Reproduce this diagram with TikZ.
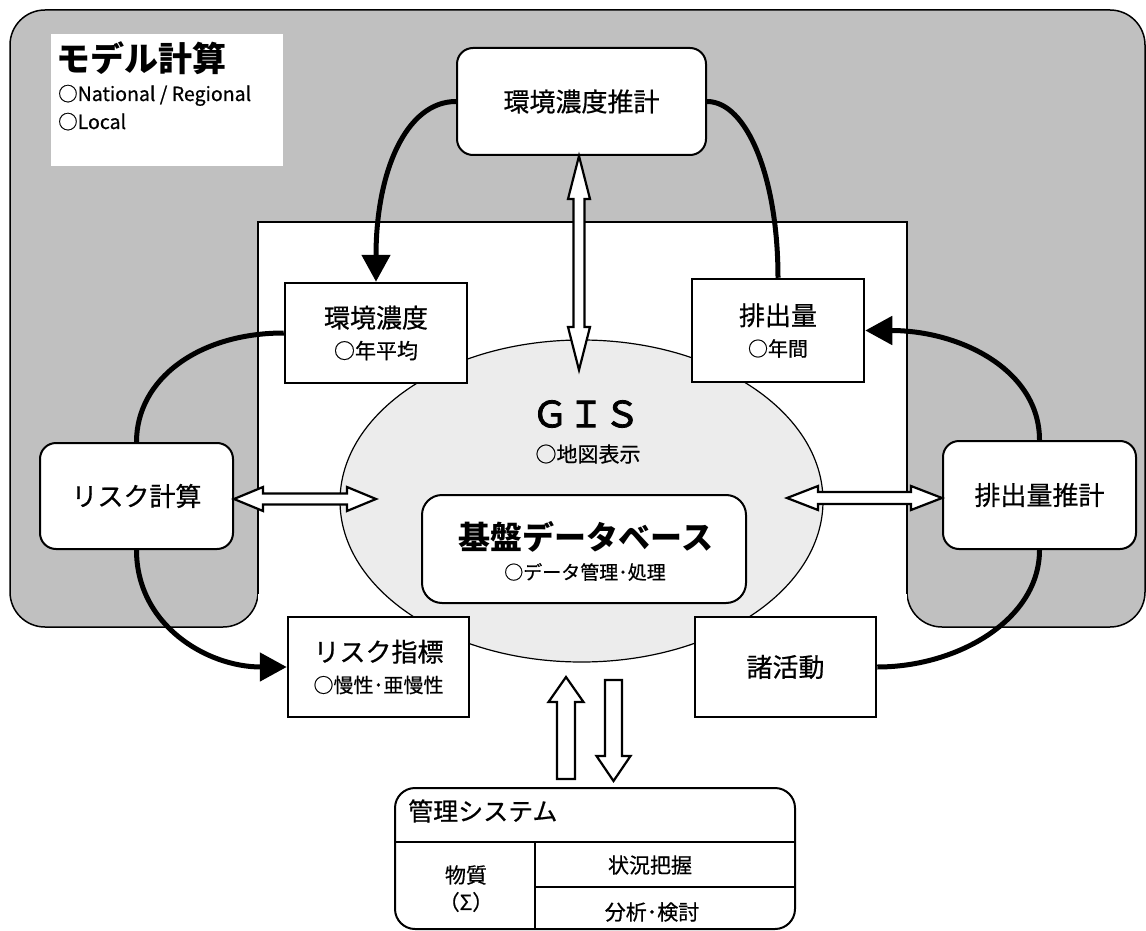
\documentclass[tikz,border=0pt]{standalone}
\usepackage{fontspec}
\setmainfont{Noto Sans CJK JP}[UprightFeatures={FakeBold=0.6}]
\newfontfamily\gisfont{Noto Sans CJK JP}[FakeBold=2.2]
\usetikzlibrary{arrows.meta,calc,shapes.geometric}
\definecolor{panelgrey}{HTML}{C0C0C0}
\definecolor{gisfill}{HTML}{ECECEC}
\newcommand{\fs}[1]{\fontsize{#1}{#1}\selectfont}
% horizontal double block arrow: left tip, right tip, head length, head half width, shaft half width
\newcommand{\hdblarrow}[5]{\draw[blockarrow] let \p1=(#1), \p2=(#2) in
  (\x1,\y1) -- (\x1+#3pt,\y1+#4pt) -- (\x1+#3pt,\y1+#5pt) -- (\x2-#3pt,\y1+#5pt) -- (\x2-#3pt,\y1+#4pt)
  -- (\x2,\y1) -- (\x2-#3pt,\y1-#4pt) -- (\x2-#3pt,\y1-#5pt) -- (\x1+#3pt,\y1-#5pt) -- (\x1+#3pt,\y1-#4pt) -- cycle;}
% vertical double block arrow: top tip, bottom tip, ...
\newcommand{\vdblarrow}[5]{\draw[blockarrow] let \p1=(#1), \p2=(#2) in
  (\x1,\y1) -- (\x1+#4pt,\y1-#3pt) -- (\x1+#5pt,\y1-#3pt) -- (\x1+#5pt,\y2+#3pt) -- (\x1+#4pt,\y2+#3pt)
  -- (\x1,\y2) -- (\x1-#4pt,\y2+#3pt) -- (\x1-#5pt,\y2+#3pt) -- (\x1-#5pt,\y1-#3pt) -- (\x1-#4pt,\y1-#3pt) -- cycle;}
% single up arrow: tip (top), tail (bottom)
\newcommand{\uparrowblk}[5]{\draw[blockarrow] let \p1=(#1), \p2=(#2) in
  (\x1,\y1) -- (\x1+#4pt,\y1-#3pt) -- (\x1+#5pt,\y1-#3pt) -- (\x1+#5pt,\y2) -- (\x1-#5pt,\y2)
  -- (\x1-#5pt,\y1-#3pt) -- (\x1-#4pt,\y1-#3pt) -- cycle;}
% single down arrow: tail (top), tip (bottom)
\newcommand{\downarrowblk}[5]{\draw[blockarrow] let \p1=(#1), \p2=(#2) in
  (\x2,\y2) -- (\x2+#4pt,\y2+#3pt) -- (\x2+#5pt,\y2+#3pt) -- (\x2+#5pt,\y1) -- (\x2-#5pt,\y1)
  -- (\x2-#5pt,\y2+#3pt) -- (\x2-#4pt,\y2+#3pt) -- cycle;}

\begin{document}
\begin{tikzpicture}[x=1pt,y=-1pt,
  sqbox/.style={draw, line width=2.5pt, fill=white, inner sep=0pt, align=center, font=\fontsize{26}{31}\selectfont},
  rbox/.style={draw, line width=2pt, fill=white, rounded corners=16pt, inner sep=0pt, align=center, font=\fs{26}},
  flow/.style={line width=5pt},
  flowarrow/.style={flow, -{Triangle[length=27pt,width=28pt]}},
  blockarrow/.style={draw, line width=2.2pt, fill=white, line join=miter},
  txt/.style={inner sep=0pt},
]
\useasboundingbox (0,0) rectangle (1146,931);

% grey panel with the central white area
\draw[fill=panelgrey, line width=1.5pt, rounded corners=35pt]
  (10,10) -- (1145,10) -- (1145,627) -- (907,627) -- (907,222) -- (258,222) -- (258,627) -- (10,627) -- cycle;
\fill[white] (258,222) rectangle (907,640);
\draw[line width=2.5pt] (258,594) -- (258,222) -- (907,222) -- (907,594);

% model calculation label
\node[fill=white, anchor=north west, minimum width=232, minimum height=132, inner sep=0pt] (modelbox) at (51,34) {};
\node[txt, anchor=base west, font=\bfseries\fs{34}] (modeltitle) at (56,72) {モデル計算};
\node[txt, anchor=base west, font=\fs{19.5}] (modelnat) at (58,101) {○National / Regional};
\node[txt, anchor=base west, font=\fs{19.5}] (modellocal) at (58,129) {○Local};

% GIS ellipse and database
\node[ellipse, draw, line width=1.2pt, fill=gisfill, minimum width=483, minimum height=322, inner sep=0pt] (gis) at (581.5,501) {};
\node[txt, font=\gisfont\fs{36}] (gistitle) at (586,414) {ＧＩＳ};
\node[txt, font=\fs{21}] (gissub) at (588,454) {○地図表示};
\node[rbox, rounded corners=20pt, minimum width=324, minimum height=108] (db) at (584,549) {};
\node[txt, font=\bfseries\fs{32}] (dbtitle) at (586,537) {基盤データベース};
\node[txt, font=\fs{19}] (dbsub) at (585,572) {○データ管理･処理};

% boxes
\node[rbox, minimum width=249, minimum height=107] (est) at (581.5,101.5) {環境濃度推計};
\node[sqbox, minimum width=182, minimum height=100] (conc) at (376,333) {環境濃度\\{\fs{21}○年平均}};
\node[sqbox, minimum width=172, minimum height=103] (emis) at (778,330.5) {排出量\\{\fs{20}○年間}};
\node[rbox, minimum width=193, minimum height=106] (riskcalc) at (136.5,496) {リスク計算};
\node[rbox, minimum width=193, minimum height=108] (emisest) at (1039.5,495) {排出量推計};
\node[sqbox, minimum width=181, minimum height=100] (riskidx) at (378.5,667) {リスク指標\\{\fs{20}○慢性･亜慢性}};
\node[sqbox, minimum width=181, minimum height=100] (act) at (785.5,667) {諸活動};

% thick flow curves
\draw[flowarrow] (est.west) .. controls +(-50,0) and +(0,-110) .. (conc.north);
\draw[flow] (est.east) .. controls +(40,0) and +(0,-100) .. (emis.north);
\draw[flowarrow] (emisest.north) .. controls +(0,-70) and +(95,0) .. (emis.east);
\draw[flow] (emisest.south) .. controls +(0,70) and +(80,0) .. (act.east);
\draw[flow] (conc.west) .. controls +(-85,0) and +(0,-63) .. (riskcalc.north);
\draw[flowarrow] (riskcalc.south) .. controls +(0,75) and +(-80,0) .. (riskidx.west);

% block arrows
\coordinate (gisT) at (579,370);
\coordinate (gisL) at (376,499);
\coordinate (gisR) at (787,498);
\coordinate (upTip) at (566,677);
\coordinate (upTail) at (566,779);
\coordinate (downTail) at (613.5,680);
\coordinate (downTip) at (613.5,781);
\vdblarrow{gisT |- est.south}{gisT}{43}{11}{5.5}
\hdblarrow{$(riskcalc.east)+(0,3)$}{gisL}{29}{12}{5.5}
\hdblarrow{gisR}{$(emisest.west)+(0,3)$}{31}{12}{6}
\uparrowblk{upTip}{upTail}{25}{17.5}{9}
\downarrowblk{downTail}{downTip}{25}{17}{8.5}

% management system
\node[draw, line width=2pt, rounded corners=20pt, fill=white, minimum width=400, minimum height=141, inner sep=0pt] (mgmt) at (595,858.5) {};
\draw[line width=2pt] ($(mgmt.north west)+(0,55)$) -- ($(mgmt.north east)+(0,55)$);
\draw[line width=2pt] ($(mgmt.north west)+(141,55)$) -- ($(mgmt.south west)+(141,0)$);
\draw[line width=2pt] ($(mgmt.north west)+(141,100)$) -- ($(mgmt.north east)+(0,100)$);
\node[txt, anchor=west, font=\fs{25}] (mgmttitle) at (408,811) {管理システム};
\node[txt, font=\fs{21}] (subst) at (466,875) {物質};
\node[txt, font=\fs{21}] (sigma) at (466,902) {（Σ）};
\node[txt, font=\fs{21}] (status) at (650,865) {状況把握};
\node[txt, font=\fs{21}] (analysis) at (652,912) {分析･検討};
\end{tikzpicture}
\end{document}
